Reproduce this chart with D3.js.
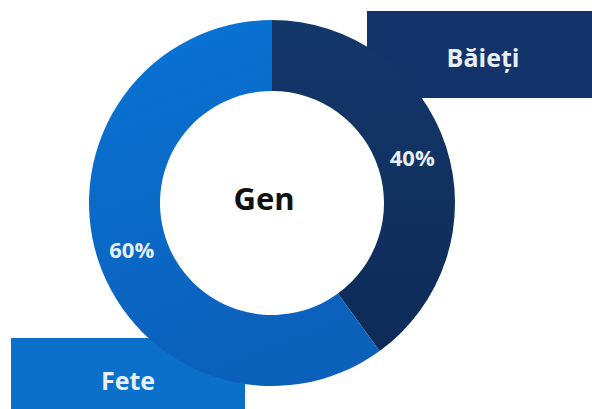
<!DOCTYPE html>
<html>
<head>
<meta charset="utf-8">
<script src="https://cdn.jsdelivr.net/npm/d3@7/dist/d3.min.js"></script>
<style>
  body { margin: 0; background: #fff; }
  svg { display: block; font-family: "Open Sans", "Noto Sans", sans-serif; }
</style>
</head>
<body>
<svg id="chart" width="592" height="409"></svg>
<script>
// chart data
const categories = ["Băieți", "Fete"];
const values = [40, 60];
const valueLabels = ["40%", "60%"];
const centerTitle = "Gen";

const width = 592, height = 409;
const cx = 272, cy = 203;
const outerR = 183, innerR = 112;

const svg = d3.select("#chart");

const defs = svg.append("defs");
const grad = defs.append("linearGradient")
  .attr("id", "feteGrad")
  .attr("x1", 0).attr("y1", 0).attr("x2", 0.3).attr("y2", 1);
grad.append("stop").attr("offset", "0%").attr("stop-color", "#0874d6");
grad.append("stop").attr("offset", "100%").attr("stop-color", "#0b60ba");

const navyGrad = defs.append("linearGradient")
  .attr("id", "navyGrad")
  .attr("x1", 0).attr("y1", 0).attr("x2", 0).attr("y2", 1);
navyGrad.append("stop").attr("offset", "0%").attr("stop-color", "#14376a");
navyGrad.append("stop").attr("offset", "100%").attr("stop-color", "#0e2b58");

const fills = ["url(#navyGrad)", "url(#feteGrad)"];

// legend boxes (drawn under the ring)
svg.append("rect")
  .attr("x", 367).attr("y", 11)
  .attr("width", width - 367).attr("height", 87)
  .attr("fill", "#12346a");
svg.append("text")
  .attr("x", 483).attr("y", 57)
  .attr("text-anchor", "middle")
  .attr("dominant-baseline", "central")
  .attr("fill", "#e8eef6")
  .attr("font-size", 25)
  .attr("font-weight", 700)
  .text(categories[0]);

svg.append("rect")
  .attr("x", 11).attr("y", 338)
  .attr("width", 234).attr("height", height - 338)
  .attr("fill", "#0b70c9");
svg.append("text")
  .attr("x", 128).attr("y", 380)
  .attr("text-anchor", "middle")
  .attr("dominant-baseline", "central")
  .attr("fill", "#e8f1fb")
  .attr("font-size", 25)
  .attr("font-weight", 700)
  .text(categories[1]);

// ring
const pie = d3.pie().sort(null).value(d => d);
const arcs = pie(values);
const arc = d3.arc().innerRadius(innerR).outerRadius(outerR);

const g = svg.append("g").attr("transform", `translate(${cx},${cy})`);

g.selectAll("path.slice")
  .data(arcs)
  .enter()
  .append("path")
  .attr("class", "slice")
  .attr("d", arc)
  .attr("fill", (d, i) => fills[i]);

// percentage labels on slice centroids
g.selectAll("text.pct")
  .data(arcs)
  .enter()
  .append("text")
  .attr("class", "pct")
  .attr("x", d => arc.centroid(d)[0])
  .attr("y", d => arc.centroid(d)[1])
  .attr("text-anchor", "middle")
  .attr("dominant-baseline", "central")
  .attr("fill", "#e6eef8")
  .attr("font-size", 22)
  .attr("font-weight", 700)
  .text((d, i) => valueLabels[i]);

g.append("text")
  .attr("x", -8).attr("y", -5)
  .attr("text-anchor", "middle")
  .attr("dominant-baseline", "central")
  .attr("fill", "#111")
  .attr("font-size", 31)
  .attr("font-weight", 700)
  .text(centerTitle);
</script>
</body>
</html>
